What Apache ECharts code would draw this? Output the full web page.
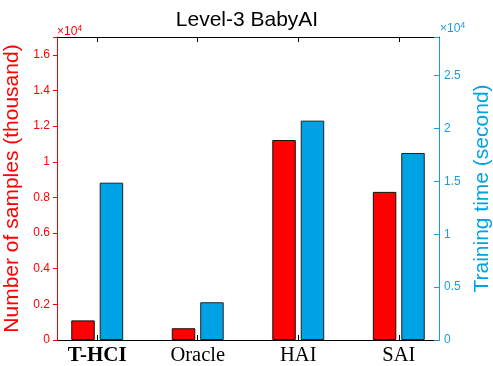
<!DOCTYPE html>
<html>
<head>
<meta charset="utf-8">
<script src="https://cdn.jsdelivr.net/npm/echarts@6/dist/echarts.min.js"></script>
<style>html,body{margin:0;padding:0;background:#fff}#c{width:493px;height:366px}</style>
</head>
<body>
<div id="c"></div>
<script>
var categories = ['T-HCI', 'Oracle', 'HAI', 'SAI'];
var samples = [1100, 660, 11220, 8310];          // left axis (×10^4 scale)
var trainingTime = [14880, 3570, 20750, 17690];  // right axis (×10^4 scale)
var leftTicks = [0, 2000, 4000, 6000, 8000, 10000, 12000, 14000, 16000];
var rightTicks = [0, 5000, 10000, 15000, 20000, 25000];

var RED = '#ff0000';
var BLUE = '#00a2e6';
var BLUE_AXIS = '#1d9bd8';

function fmt(v, ticks) {
  if (ticks.indexOf(v) < 0) return '';
  return String(+(v / 10000).toFixed(2));
}
var xPos = categories.map(function (c, i) { return i + 1; });

var chart = echarts.init(document.getElementById('c'), null, {renderer: 'canvas'});
chart.setOption({
  animation: false,
  backgroundColor: '#fff',
  title: {
    text: 'Level-3 BabyAI', left: 247, top: 10, textAlign: 'center', padding: 0,
    textStyle: {fontFamily: 'Liberation Sans, Arial', fontSize: 21, fontWeight: 'normal', color: '#000'}
  },
  grid: {left: 57, right: 54, top: 37, bottom: 26, containLabel: false, outerBoundsMode: 'none'},
  xAxis: [{
    type: 'value', min: 0.6, max: 4.4, position: 'bottom',
    axisLine: {show: true, onZero: false, lineStyle: {color: '#000', width: 1}},
    axisTick: {show: true, inside: true, length: 5, customValues: xPos, lineStyle: {color: '#000'}},
    splitLine: {show: false},
    axisLabel: {
      show: true, customValues: xPos, margin: 5,
      formatter: function (v) {
        var i = Math.round(v) - 1;
        return i === 0 ? '{b|' + categories[i] + '}' : '{n|' + categories[i] + '}';
      },
      rich: {
        b: {fontFamily: 'Liberation Serif, Times New Roman', fontSize: 21, fontWeight: 'bold', color: '#000'},
        n: {fontFamily: 'Liberation Serif, Times New Roman', fontSize: 20.5, color: '#000'}
      }
    }
  }, {
    type: 'value', min: 0.6, max: 4.4, position: 'top',
    axisLine: {show: true, onZero: false, lineStyle: {color: '#000', width: 1}},
    axisTick: {show: true, inside: true, length: 5, customValues: xPos, lineStyle: {color: '#000'}},
    splitLine: {show: false},
    axisLabel: {show: false}
  }],
  yAxis: [{
    type: 'value', min: 0, max: 17000, interval: 2000, position: 'left',
    name: 'Number of samples (thousand)', nameLocation: 'middle', nameGap: 27, nameRotate: 90,
    nameTextStyle: {color: RED, fontFamily: 'Liberation Sans, Arial', fontSize: 21},
    axisLine: {show: true, lineStyle: {color: RED, width: 1}},
    axisTick: {show: true, inside: false, length: 4, lineStyle: {color: RED}},
    splitLine: {show: false},
    axisLabel: {color: RED, fontFamily: 'Liberation Sans, Arial', fontSize: 12, margin: 7,
      formatter: function (v) { return fmt(v, leftTicks); }}
  }, {
    type: 'value', min: 0, max: 28660, interval: 5000, position: 'right',
    name: 'Training time (second)', nameLocation: 'middle', nameGap: 31, nameRotate: 90,
    nameTextStyle: {color: BLUE, fontFamily: 'Liberation Sans, Arial', fontSize: 21},
    axisLine: {show: true, lineStyle: {color: BLUE_AXIS, width: 1}},
    axisTick: {show: true, inside: true, length: 5, lineStyle: {color: BLUE_AXIS}},
    splitLine: {show: false},
    axisLabel: {color: BLUE_AXIS, fontFamily: 'Liberation Sans, Arial', fontSize: 12, margin: 5,
      formatter: function (v) { return fmt(v, rightTicks); }}
  }],
  series: [{
    type: 'bar', name: 'samples', xAxisIndex: 0, yAxisIndex: 0,
    barWidth: 23.5, barGap: '21%',
    itemStyle: {color: RED, borderColor: '#111', borderWidth: 1},
    data: samples.map(function (v, i) { return [xPos[i], v]; })
  }, {
    type: 'bar', name: 'time', xAxisIndex: 0, yAxisIndex: 1,
    barWidth: 23.5, barGap: '21%',
    itemStyle: {color: BLUE, borderColor: '#222', borderWidth: 1},
    data: trainingTime.map(function (v, i) { return [xPos[i], v]; })
  }],
  graphic: [{
    type: 'text', left: 57, top: 24,
    style: {text: '×10{s|4}', fill: RED, font: '12px Liberation Sans, Arial',
      rich: {s: {fontSize: 9, verticalAlign: 'top', padding: [0, 0, 6, 0], fill: RED}}}
  }, {
    type: 'text', left: 440, top: 21,
    style: {text: '×10{s|4}', fill: BLUE_AXIS, font: '12px Liberation Sans, Arial',
      rich: {s: {fontSize: 9, verticalAlign: 'top', padding: [0, 0, 6, 0], fill: BLUE_AXIS}}}
  }]
});
</script>
</body>
</html>
